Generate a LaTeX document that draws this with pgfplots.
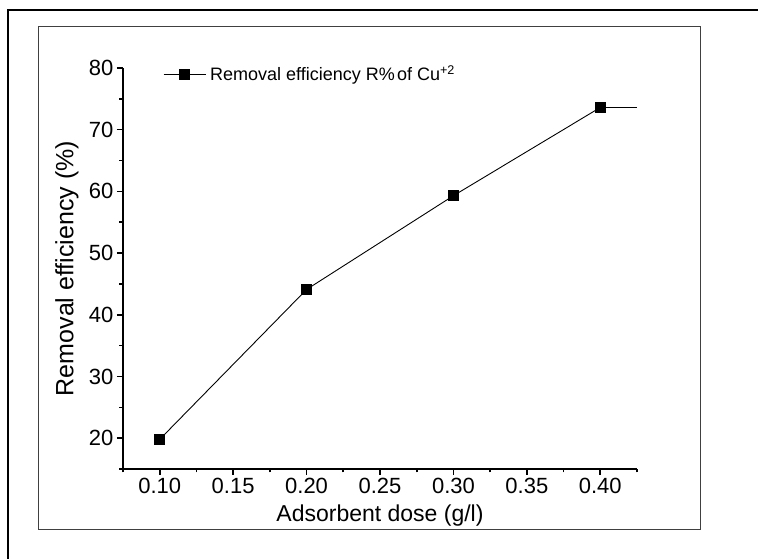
\documentclass[border=0pt]{standalone}
\usepackage{fontspec}
\setmainfont{Liberation Sans}
\usepackage{pgfplots}
\pgfplotsset{compat=1.18}
\begin{document}
\begin{tikzpicture}[x=1pt,y=1pt]
\useasboundingbox (0,0) rectangle (758,559);
\draw[line width=2.5pt] (8,-10) -- (8,549) -- (770,549);
\draw[line width=1pt, black!75] (38,29) rectangle (700,532);
\begin{axis}[
  at={(123pt,90pt)}, anchor=origin,
  scale only axis, width=514pt, height=401pt,
  xmin=0.075, xmax=0.425, ymin=15, ymax=80,
  axis lines*=left,
  axis line style={line width=2.4pt, black},
  xtick={0.10,0.15,0.20,0.25,0.30,0.35,0.40},
  minor xtick={0.075,0.125,0.175,0.225,0.275,0.325,0.375,0.425},
  ytick={20,30,40,50,60,70,80},
  minor ytick={15,25,35,45,55,65,75},
  tick align=outside,
  major tick length=6pt, minor tick length=3.5pt,
  every tick/.style={line width=1.6pt, black},
  /pgf/number format/assume math mode=true,
  xticklabel style={/pgf/number format/.cd, fixed, fixed zerofill, precision=2},
  ticklabel style={font=\fontsize{22}{26}\selectfont},
  xlabel={Adsorbent dose (g/l)},
  ylabel={Removal efficiency (\%)},
  xlabel style={at={(axis description cs:0.5,-0.117)}, anchor=center, font=\fontsize{23}{27}\selectfont},
  ylabel style={at={(axis description cs:-0.109,0.5)}, anchor=center, rotate=0, font=\fontsize{25}{29}\selectfont},
  legend style={draw=none, fill=none, at={(axis description cs:0.078,0.985)}, anchor=west,
    font=\fontsize{18}{21}\selectfont, inner sep=0pt, nodes={inner xsep=4pt}},
  legend image code/.code={\draw[mark repeat=2,mark phase=2,#1] plot coordinates {(0pt,0pt) (21pt,0pt) (42pt,0pt)};},
  clip=false,
]
\addplot[black, line width=0.9pt, mark=square*, mark size=5pt, mark options={solid}] coordinates {
  (0.10,19.8) (0.20,44.1) (0.30,59.3) (0.40,73.6)
};
\addlegendentry{Removal efficiency R\%\hspace{0.12em}of Cu\textsuperscript{+2}}
\addplot[black, line width=0.9pt, forget plot] coordinates {(0.40,73.6) (0.425,73.6)};
\end{axis}
\end{tikzpicture}
\end{document}
